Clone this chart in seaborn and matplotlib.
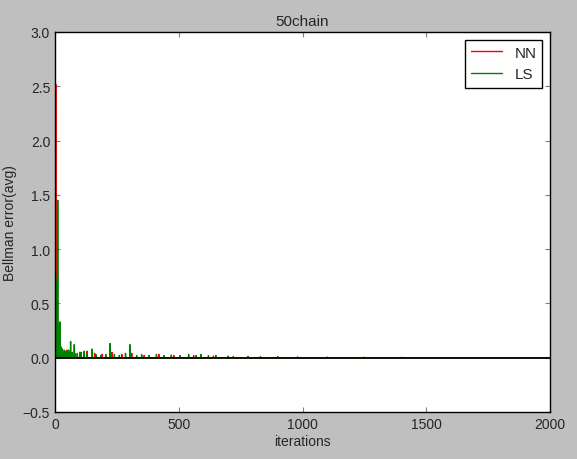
import numpy as np
import matplotlib
matplotlib.use("Agg")
import matplotlib.pyplot as plt
import seaborn as sns

n_iter = 2000
# (iteration, value) spikes; other iterations ~0
nn_spikes = [(0, 0.3), (3, 2.52), (4, 0.7), (5, 0.4), (6, 0.25), (7, 0.15), (9, 0.1), (12, 0.08),
             (18, 0.11), (25, 0.06), (35, 0.05), (48, 0.07), (60, 0.05), (80, 0.04), (100, 0.05),
             (130, 0.06), (160, 0.04), (190, 0.03), (230, 0.05), (270, 0.03), (310, 0.04),
             (360, 0.02), (420, 0.03), (480, 0.02), (560, 0.02), (640, 0.015), (720, 0.01)]
ls_spikes = [(0, 0.5), (2, 0.78), (5, 0.7), (6, 0.35), (8, 0.2), (11, 1.45), (14, 0.3),
             (17, 0.12), (20, 0.33), (24, 0.1), (30, 0.08), (38, 0.07), (45, 0.06), (55, 0.07),
             (63, 0.15), (70, 0.05), (78, 0.12), (90, 0.04), (105, 0.05), (118, 0.06), (130, 0.04),
             (150, 0.08), (165, 0.03), (185, 0.02), (205, 0.03), (222, 0.13), (240, 0.03),
             (260, 0.02), (285, 0.04), (303, 0.12), (330, 0.02), (350, 0.03), (380, 0.02),
             (410, 0.03), (440, 0.02), (470, 0.025), (505, 0.02), (540, 0.03), (570, 0.02),
             (590, 0.03), (620, 0.02), (650, 0.02), (700, 0.015), (780, 0.012), (830, 0.01),
             (900, 0.01), (980, 0.008), (1100, 0.006), (1250, 0.005), (1400, 0.004)]

def build(spikes):
    y = np.zeros(n_iter)
    for i, v in spikes:
        y[i] = v
    return y

iters = np.arange(n_iter)
nn = build(nn_spikes)
ls = build(ls_spikes)

sns.set_style("ticks")
plt.rcParams['font.family'] = ['Liberation Sans', 'DejaVu Sans']
fig = plt.figure(figsize=(5.77, 4.6), dpi=100, facecolor='#bfbfbf')
ax = fig.add_axes([55/577, 47/460, 495/577, 380/460])
ax.set_facecolor('white')
sns.lineplot(x=iters, y=nn, color='red', label='NN', ax=ax, linewidth=1)
sns.lineplot(x=iters, y=ls, color='green', label='LS', ax=ax, linewidth=1)
ax.axhline(0, color='black', linewidth=1.2)
ax.set_xlim(0, 2000)
ax.set_ylim(-0.5, 3.0)
ax.set_xticks([0, 500, 1000, 1500, 2000])
ax.set_yticks(np.arange(-0.5, 3.01, 0.5))
ax.set_xlabel('iterations', fontsize=10, labelpad=2)
ax.set_ylabel('Bellman error(avg)', fontsize=10, labelpad=4)
ax.set_title('50chain', fontsize=11, pad=5)
ax.tick_params(direction='in', top=True, right=True, labelsize=10, color='#808080')
for s in ax.spines.values():
    s.set_color('black')
    s.set_linewidth(1)
leg = ax.legend(loc='upper right', frameon=True, fancybox=False, fontsize=11)
leg.get_frame().set_edgecolor('black')
leg.get_frame().set_alpha(1)
fig.savefig('out.png', dpi=100, facecolor=fig.get_facecolor())
